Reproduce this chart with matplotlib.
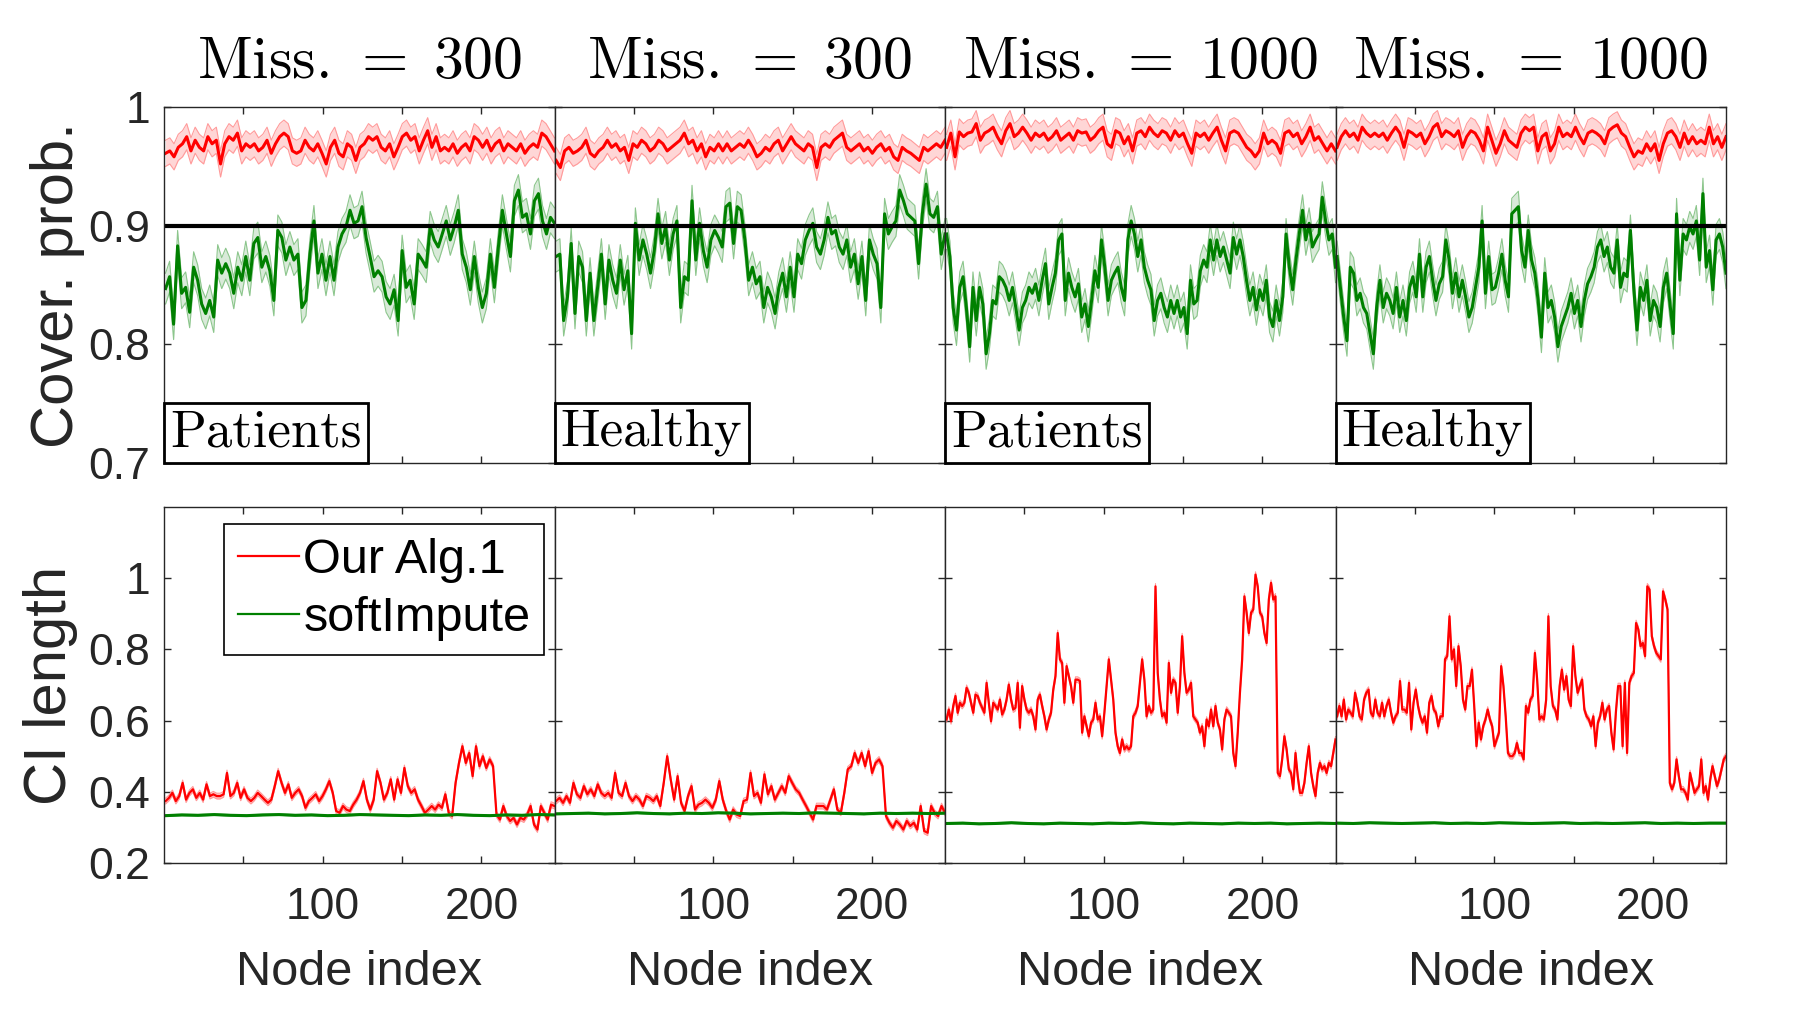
import matplotlib
matplotlib.use('Agg')
import matplotlib.pyplot as plt
from matplotlib.offsetbox import AnchoredText
from matplotlib.lines import Line2D
import numpy as np

plt.rcParams['font.family'] = ['Liberation Sans', 'DejaVu Sans']
plt.rcParams['mathtext.fontset'] = 'cm'

# ---- data ----
n_nodes = 246
miss_counts = [300, 300, 1000, 1000]
groups = ['Patients', 'Healthy', 'Patients', 'Healthy']
legend_labels = ['Our Alg.1', 'softImpute']
target_cover = 0.9

# coverage probability, Our Alg.1
cover_ours_1 = [0.961,0.963,0.958,0.966,0.969,0.975,0.963,0.972,0.966,0.963,0.975,0.969,0.972,0.952,0.969,0.975,0.972,0.978,0.963,0.969,0.966,0.969,0.963,0.966,0.972,0.961,0.969,0.975,0.978,0.975,0.963,0.961,0.963,0.972,0.966,0.963,0.969,0.961,0.952,0.966,0.972,0.961,0.958,0.969,0.966,0.955,0.966,0.969,0.975,0.972,0.975,0.966,0.963,0.969,0.958,0.966,0.975,0.978,0.972,0.975,0.963,0.972,0.980,0.966,0.975,0.963,0.966,0.963,0.969,0.961,0.966,0.969,0.963,0.975,0.972,0.966,0.972,0.963,0.969,0.972,0.963,0.969,0.966,0.963,0.969,0.961,0.966,0.969,0.966,0.978,0.975,0.969,0.963]
cover_ours_2 = [0.955,0.949,0.963,0.966,0.961,0.963,0.966,0.972,0.961,0.958,0.963,0.966,0.972,0.966,0.969,0.963,0.966,0.955,0.969,0.966,0.972,0.969,0.963,0.966,0.972,0.969,0.963,0.966,0.969,0.972,0.978,0.969,0.972,0.963,0.969,0.958,0.966,0.963,0.969,0.963,0.969,0.963,0.966,0.969,0.966,0.972,0.966,0.958,0.961,0.966,0.963,0.969,0.972,0.963,0.969,0.975,0.969,0.966,0.963,0.969,0.966,0.949,0.966,0.969,0.966,0.972,0.975,0.978,0.966,0.963,0.966,0.969,0.963,0.966,0.961,0.966,0.969,0.963,0.966,0.958,0.955,0.966,0.963,0.961,0.958,0.955,0.966,0.963,0.966,0.969,0.966,0.972]
cover_ours_3 = [0.966,0.978,0.958,0.979,0.975,0.978,0.979,0.986,0.972,0.978,0.980,0.983,0.975,0.969,0.980,0.986,0.975,0.978,0.983,0.978,0.972,0.978,0.975,0.978,0.972,0.975,0.980,0.972,0.975,0.978,0.972,0.980,0.978,0.979,0.972,0.975,0.980,0.983,0.969,0.966,0.980,0.978,0.969,0.975,0.963,0.978,0.980,0.975,0.983,0.978,0.975,0.980,0.978,0.972,0.980,0.975,0.978,0.969,0.961,0.978,0.975,0.978,0.972,0.978,0.983,0.972,0.963,0.978,0.980,0.978,0.972,0.966,0.963,0.958,0.963,0.978,0.969,0.972,0.969,0.961,0.978,0.980,0.975,0.978,0.969,0.975,0.983,0.972,0.975,0.969,0.963,0.969,0.963]
cover_ours_4 = [0.966,0.975,0.980,0.975,0.978,0.972,0.983,0.978,0.975,0.978,0.975,0.978,0.972,0.978,0.983,0.978,0.966,0.980,0.978,0.975,0.978,0.969,0.975,0.983,0.986,0.975,0.980,0.978,0.975,0.980,0.966,0.975,0.980,0.978,0.972,0.963,0.983,0.972,0.961,0.969,0.980,0.972,0.969,0.966,0.978,0.983,0.980,0.983,0.963,0.975,0.978,0.963,0.969,0.983,0.975,0.978,0.975,0.983,0.975,0.969,0.978,0.980,0.978,0.975,0.969,0.980,0.983,0.985,0.978,0.975,0.966,0.958,0.963,0.961,0.969,0.963,0.969,0.955,0.969,0.978,0.980,0.975,0.966,0.978,0.969,0.975,0.969,0.972,0.969,0.983,0.969,0.975,0.966,0.975]

# coverage probability, softImpute
cover_soft_1 = [0.847,0.857,0.817,0.883,0.843,0.848,0.827,0.865,0.854,0.834,0.826,0.837,0.823,0.871,0.860,0.868,0.860,0.843,0.865,0.854,0.874,0.854,0.885,0.890,0.865,0.874,0.862,0.837,0.896,0.890,0.871,0.882,0.871,0.876,0.831,0.837,0.876,0.904,0.860,0.876,0.854,0.874,0.854,0.882,0.893,0.899,0.913,0.902,0.904,0.916,0.890,0.874,0.857,0.862,0.857,0.840,0.834,0.846,0.820,0.879,0.848,0.854,0.834,0.876,0.871,0.865,0.899,0.888,0.882,0.893,0.904,0.888,0.899,0.913,0.876,0.865,0.846,0.874,0.848,0.831,0.843,0.876,0.848,0.882,0.913,0.893,0.874,0.921,0.930,0.907,0.910,0.893,0.921,0.927,0.904,0.893,0.907,0.902]
cover_soft_2 = [0.874,0.876,0.820,0.840,0.885,0.826,0.874,0.865,0.820,0.860,0.820,0.848,0.876,0.834,0.871,0.854,0.843,0.871,0.846,0.862,0.809,0.902,0.871,0.888,0.876,0.860,0.879,0.910,0.885,0.899,0.871,0.893,0.904,0.831,0.857,0.854,0.921,0.871,0.902,0.879,0.865,0.888,0.896,0.890,0.882,0.916,0.919,0.885,0.916,0.913,0.888,0.854,0.865,0.851,0.857,0.831,0.848,0.840,0.826,0.848,0.860,0.840,0.865,0.840,0.876,0.868,0.888,0.896,0.902,0.882,0.876,0.888,0.907,0.893,0.896,0.882,0.876,0.888,0.865,0.876,0.851,0.874,0.837,0.888,0.876,0.868,0.831,0.910,0.893,0.899,0.904,0.930,0.921,0.910,0.907,0.904,0.868,0.910,0.935,0.910,0.907,0.916,0.876,0.893]
cover_soft_3 = [0.893,0.874,0.831,0.812,0.848,0.857,0.831,0.798,0.848,0.820,0.848,0.834,0.792,0.809,0.837,0.834,0.857,0.854,0.848,0.837,0.848,0.831,0.812,0.831,0.837,0.848,0.843,0.851,0.837,0.854,0.868,0.834,0.848,0.860,0.888,0.893,0.837,0.860,0.848,0.840,0.851,0.823,0.834,0.815,0.837,0.862,0.848,0.888,0.865,0.837,0.854,0.860,0.865,0.848,0.837,0.888,0.904,0.893,0.874,0.888,0.865,0.854,0.846,0.820,0.837,0.843,0.831,0.823,0.837,0.826,0.837,0.823,0.831,0.809,0.854,0.834,0.837,0.862,0.871,0.865,0.888,0.871,0.888,0.874,0.882,0.871,0.860,0.890,0.876,0.888,0.874,0.854,0.837,0.848,0.829,0.846,0.837,0.854,0.823,0.815,0.837,0.820,0.840,0.893,0.865,0.846,0.871,0.893,0.913,0.888,0.902,0.882,0.888,0.893,0.924,0.904,0.888,0.893,0.865]
cover_soft_4 = [0.874,0.848,0.823,0.803,0.865,0.860,0.837,0.843,0.831,0.826,0.809,0.792,0.831,0.854,0.831,0.843,0.837,0.826,0.848,0.823,0.837,0.820,0.848,0.857,0.840,0.876,0.840,0.865,0.874,0.854,0.837,0.851,0.857,0.888,0.871,0.843,0.860,0.840,0.854,0.840,0.823,0.831,0.848,0.865,0.904,0.843,0.874,0.846,0.848,0.860,0.876,0.854,0.840,0.910,0.913,0.916,0.879,0.865,0.896,0.871,0.860,0.837,0.806,0.860,0.831,0.837,0.823,0.798,0.815,0.823,0.831,0.843,0.826,0.837,0.815,0.837,0.851,0.857,0.865,0.882,0.888,0.874,0.882,0.865,0.860,0.888,0.848,0.860,0.857,0.896,0.848,0.812,0.848,0.837,0.854,0.820,0.837,0.831,0.815,0.848,0.860,0.834,0.809,0.910,0.854,0.893,0.888,0.899,0.893,0.904,0.871,0.927,0.865,0.879,0.846,0.888,0.893,0.882,0.860]

# CI length, Our Alg.1
ci_ours_1 = [0.374,0.383,0.397,0.374,0.388,0.425,0.378,0.397,0.407,0.383,0.397,0.378,0.421,0.388,0.393,0.388,0.388,0.393,0.453,0.388,0.397,0.425,0.383,0.407,0.383,0.374,0.383,0.397,0.388,0.378,0.369,0.378,0.416,0.458,0.425,0.397,0.421,0.383,0.397,0.407,0.388,0.355,0.374,0.383,0.393,0.374,0.388,0.407,0.430,0.397,0.346,0.341,0.360,0.350,0.346,0.364,0.378,0.397,0.430,0.378,0.350,0.378,0.458,0.425,0.378,0.397,0.435,0.378,0.435,0.397,0.467,0.416,0.397,0.407,0.378,0.360,0.341,0.350,0.360,0.350,0.364,0.355,0.393,0.341,0.332,0.425,0.481,0.528,0.481,0.509,0.444,0.528,0.472,0.500,0.467,0.491,0.472,0.336,0.322,0.360,0.332,0.318,0.327,0.308,0.327,0.322,0.336,0.360,0.308,0.294,0.360,0.341,0.322,0.364,0.360]
ci_ours_2 = [0.374,0.383,0.369,0.388,0.369,0.425,0.393,0.383,0.416,0.393,0.407,0.388,0.421,0.397,0.388,0.397,0.383,0.453,0.397,0.388,0.425,0.388,0.374,0.388,0.378,0.360,0.388,0.383,0.374,0.388,0.360,0.425,0.500,0.435,0.378,0.444,0.369,0.346,0.388,0.416,0.350,0.364,0.369,0.378,0.369,0.355,0.378,0.430,0.378,0.346,0.322,0.350,0.336,0.332,0.374,0.378,0.453,0.388,0.397,0.369,0.449,0.393,0.416,0.378,0.397,0.416,0.397,0.444,0.425,0.407,0.397,0.378,0.360,0.341,0.322,0.360,0.360,0.360,0.350,0.378,0.407,0.350,0.341,0.397,0.463,0.472,0.509,0.481,0.509,0.472,0.514,0.453,0.481,0.491,0.472,0.332,0.313,0.299,0.318,0.308,0.294,0.318,0.304,0.313,0.294,0.360,0.290,0.285,0.360,0.341,0.332,0.360,0.341]
ci_ours_3 = [0.603,0.631,0.598,0.641,0.669,0.622,0.650,0.641,0.650,0.692,0.678,0.650,0.622,0.673,0.669,0.650,0.636,0.622,0.706,0.650,0.598,0.650,0.641,0.631,0.659,0.617,0.631,0.659,0.701,0.659,0.631,0.636,0.706,0.580,0.697,0.659,0.631,0.622,0.631,0.612,0.575,0.659,0.673,0.641,0.612,0.575,0.603,0.622,0.687,0.725,0.846,0.772,0.762,0.650,0.753,0.725,0.697,0.650,0.715,0.715,0.711,0.566,0.612,0.584,0.556,0.594,0.603,0.650,0.603,0.612,0.556,0.622,0.697,0.772,0.715,0.659,0.566,0.528,0.509,0.547,0.519,0.528,0.519,0.528,0.612,0.622,0.641,0.706,0.772,0.715,0.612,0.641,0.622,0.631,0.977,0.734,0.659,0.612,0.622,0.594,0.762,0.678,0.715,0.706,0.622,0.697,0.837,0.734,0.678,0.687,0.706,0.612,0.603,0.594,0.566,0.584,0.528,0.603,0.584,0.631,0.584,0.641,0.594,0.575,0.519,0.603,0.631,0.622,0.612,0.509,0.472,0.566,0.678,0.772,0.949,0.903,0.846,0.903,0.912,1.010,0.977,0.903,0.893,0.846,0.818,0.940,0.987,0.940,0.949,0.453,0.444,0.491,0.556,0.519,0.463,0.453,0.407,0.509,0.444,0.397,0.397,0.425,0.481,0.528,0.453,0.416,0.388,0.453,0.481,0.463,0.472,0.453,0.481,0.472,0.509,0.547]
ci_ours_4 = [0.612,0.641,0.612,0.659,0.603,0.631,0.622,0.612,0.678,0.650,0.612,0.603,0.659,0.678,0.687,0.622,0.612,0.659,0.622,0.612,0.650,0.612,0.641,0.659,0.622,0.594,0.612,0.622,0.711,0.631,0.631,0.622,0.706,0.575,0.650,0.687,0.641,0.612,0.594,0.612,0.566,0.650,0.669,0.631,0.622,0.584,0.612,0.612,0.772,0.781,0.893,0.772,0.800,0.697,0.809,0.753,0.659,0.631,0.697,0.697,0.743,0.641,0.528,0.594,0.547,0.584,0.603,0.631,0.603,0.584,0.528,0.547,0.566,0.753,0.697,0.612,0.509,0.500,0.500,0.509,0.537,0.509,0.509,0.491,0.641,0.622,0.659,0.669,0.790,0.715,0.603,0.612,0.603,0.659,0.893,0.697,0.641,0.631,0.603,0.697,0.743,0.687,0.725,0.659,0.641,0.809,0.725,0.678,0.697,0.715,0.631,0.612,0.603,0.584,0.612,0.528,0.594,0.612,0.650,0.603,0.631,0.641,0.566,0.519,0.622,0.697,0.697,0.528,0.706,0.509,0.706,0.725,0.734,0.874,0.856,0.809,0.818,0.781,0.977,0.968,0.837,0.809,0.790,0.781,0.772,0.963,0.940,0.912,0.425,0.407,0.425,0.491,0.444,0.407,0.407,0.397,0.378,0.453,0.425,0.397,0.407,0.416,0.491,0.397,0.416,0.378,0.435,0.472,0.444,0.416,0.435,0.463,0.491,0.500]

# CI length, softImpute
ci_soft_1 = [0.333,0.335,0.334,0.336,0.334,0.333,0.335,0.336,0.334,0.335,0.333,0.334,0.336,0.335,0.334,0.333,0.335,0.334,0.336,0.334,0.333,0.335,0.334,0.336,0.335]
ci_soft_2 = [0.338,0.339,0.340,0.338,0.339,0.341,0.339,0.338,0.340,0.339,0.341,0.340,0.338,0.339,0.340,0.339,0.341,0.340,0.339,0.338,0.340,0.339,0.340,0.339,0.340]
ci_soft_3 = [0.311,0.312,0.310,0.311,0.313,0.311,0.310,0.312,0.311,0.310,0.312,0.311,0.313,0.311,0.310,0.312,0.311,0.310,0.312,0.311,0.312,0.310,0.311,0.312,0.311]
ci_soft_4 = [0.312,0.311,0.313,0.312,0.311,0.312,0.313,0.311,0.312,0.311,0.313,0.312,0.311,0.312,0.313,0.311,0.312,0.311,0.312,0.313,0.311,0.312,0.311,0.312,0.312]

# half widths of the shaded bands
band_cover_ours = 0.011
band_cover_soft = 0.013
band_ci_ours = 0.008
band_ci_soft = 0.002

cover_ours = [cover_ours_1, cover_ours_2, cover_ours_3, cover_ours_4]
cover_soft = [cover_soft_1, cover_soft_2, cover_soft_3, cover_soft_4]
ci_ours = [ci_ours_1, ci_ours_2, ci_ours_3, ci_ours_4]
ci_soft = [ci_soft_1, ci_soft_2, ci_soft_3, ci_soft_4]

RED = (1, 0, 0)
GREEN = (0, 0.5, 0)
AXC = '#262626'


def band_plot(ax, values, half, color, fill, edge, lw):
    y = np.asarray(values)
    x = np.linspace(1, n_nodes, len(y))
    ax.fill_between(x, y - half, y + half, color=fill, lw=0)
    ax.plot(x, y - half, color=edge, lw=0.8)
    ax.plot(x, y + half, color=edge, lw=0.8)
    ax.plot(x, y, color=color, lw=lw)


def style_axis(ax, bottom_row):
    ax.set_xlim(0, n_nodes)
    ax.set_xticks([50, 100, 150, 200])
    for s in ax.spines.values():
        s.set_color(AXC)
        s.set_linewidth(1.0)
    ax.tick_params(direction='in', top=True, right=True, length=5, width=1,
                   color=AXC, labelcolor=AXC, labelsize=32)
    ax.tick_params(axis='x', pad=17)
    ax.tick_params(axis='y', pad=10)
    if bottom_row:
        ax.set_xticklabels(['', '100', '', '200'])
        ax.set_xlabel('Node index', fontsize=35, color=AXC)
        ax.xaxis.set_label_coords(0.5, -0.245)
    else:
        ax.set_xticklabels([])


fig = plt.figure(figsize=(18.12, 10.16), dpi=100)
L = 164 / 1812
W = 390.5 / 1812
H = 356 / 1016
top_y = 1 - 463 / 1016
bot_y = 1 - 863 / 1016

for k in range(4):
    # coverage panel
    ax = fig.add_axes([L + k * W, top_y, W, H])
    band_plot(ax, cover_ours[k], band_cover_ours, RED, '#ffd6d6', '#ff9a9a', 2.2)
    band_plot(ax, cover_soft[k], band_cover_soft, GREEN, '#d9ead9', '#8cc68c', 2.2)
    ax.axhline(target_cover, color='black', lw=3)
    ax.set_ylim(0.7, 1.0)
    ax.set_yticks([0.7, 0.8, 0.9, 1.0])
    style_axis(ax, False)
    if k == 0:
        ax.set_yticklabels(['0.7', '0.8', '0.9', '1'])
        ax.set_ylabel('Cover. prob.', fontsize=43, color=AXC)
        ax.yaxis.set_label_coords(-0.202, 0.5)
    else:
        ax.set_yticklabels([])
    ax.set_title(r'$\mathrm{Miss.}\,=\;%d$' % miss_counts[k], fontsize=43, pad=21)
    box = AnchoredText(groups[k], loc='lower left', frameon=True, pad=0.12, borderpad=0,
                       prop=dict(size=38, family=['cmr10', 'DejaVu Serif']))
    box.patch.set_boxstyle('square,pad=0')
    box.patch.set_linewidth(2)
    box.patch.set_edgecolor('black')
    ax.add_artist(box)

    # CI length panel
    ax2 = fig.add_axes([L + k * W, bot_y, W, H])
    band_plot(ax2, ci_ours[k], band_ci_ours, RED, '#ffc0c0', '#ff9a9a', 1.6)
    band_plot(ax2, ci_soft[k], band_ci_soft, GREEN, '#9fcf9f', '#8cc68c', 2.2)
    ax2.set_ylim(0.2, 1.2)
    ax2.set_yticks([0.2, 0.4, 0.6, 0.8, 1.0])
    style_axis(ax2, True)
    if k == 0:
        ax2.set_yticklabels(['0.2', '0.4', '0.6', '0.8', '1'])
        ax2.set_ylabel('CI length', fontsize=43, color=AXC)
        ax2.yaxis.set_label_coords(-0.22, 0.5)
        handles = [Line2D([], [], color=RED, lw=1.6), Line2D([], [], color=GREEN, lw=1.6)]
        leg = ax2.legend(handles, legend_labels, loc='upper left', bbox_to_anchor=(0.154, 0.952),
                         borderaxespad=0, fontsize=35, handlelength=1.25, handletextpad=0.1,
                         borderpad=0.28, labelspacing=0.28, fancybox=False, framealpha=1)
        leg.get_frame().set_edgecolor('black')
        leg.get_frame().set_linewidth(1.2)
    else:
        ax2.set_yticklabels([])

fig.savefig('out.png', dpi=100)
